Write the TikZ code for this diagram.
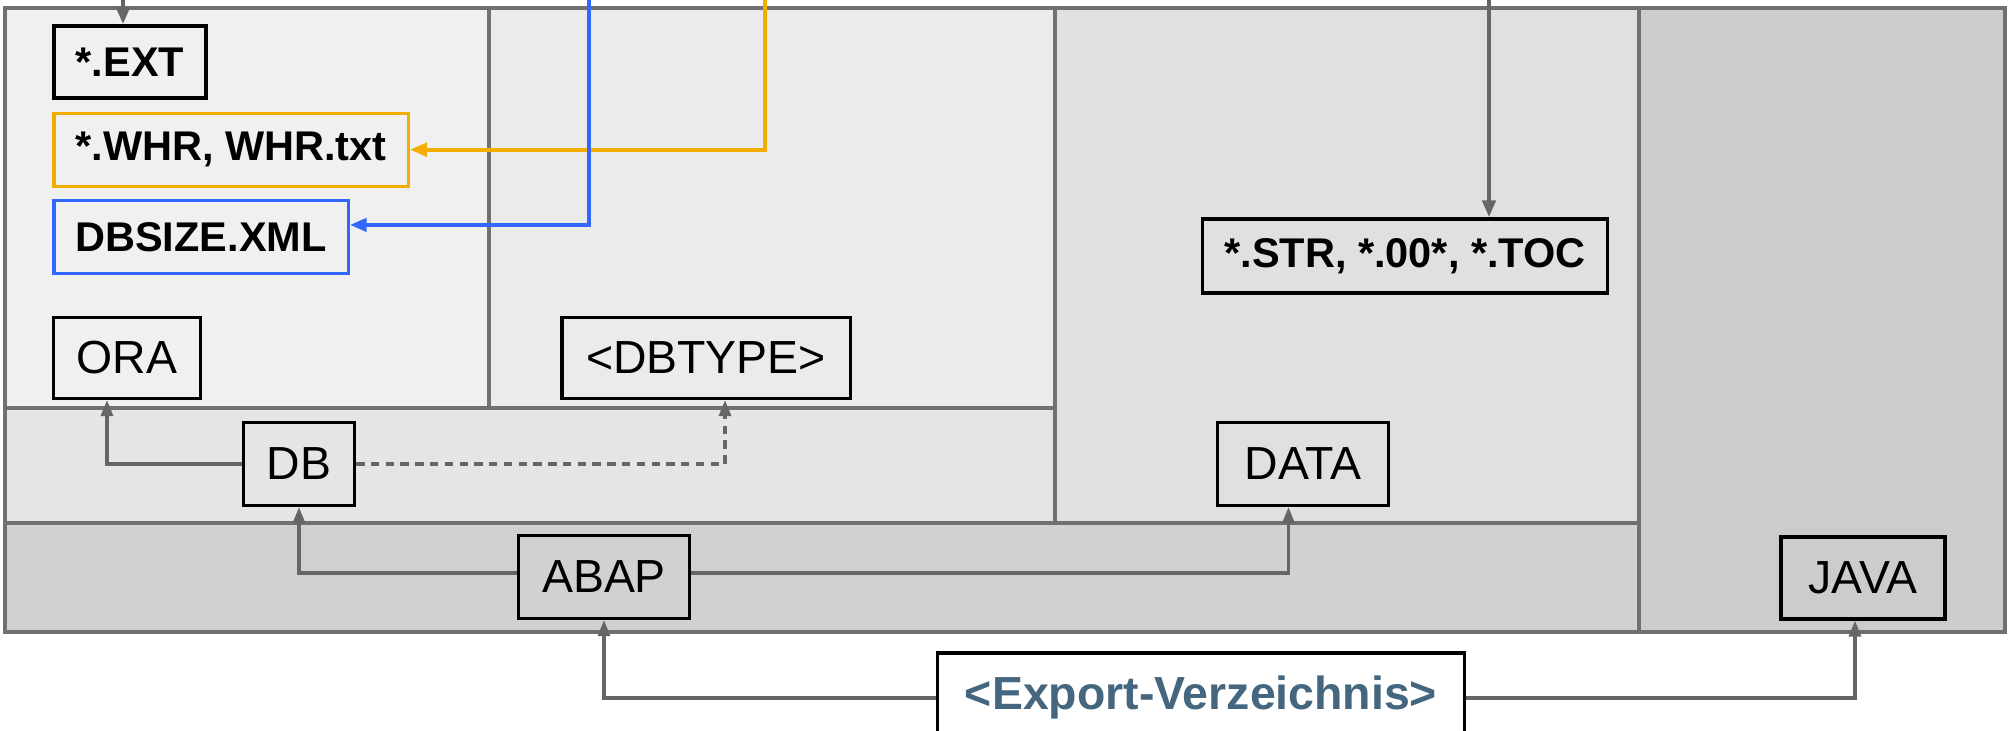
\documentclass[tikz,border=0pt]{standalone}
\usepackage{fontspec}
\setmainfont{Liberation Sans}
\usetikzlibrary{positioning}
\usetikzlibrary{arrows.meta}
\definecolor{frame}{HTML}{707070}
\definecolor{linkgray}{HTML}{666666}
\definecolor{whrorange}{HTML}{F2AE00}
\definecolor{sizeblue}{HTML}{3366FF}
\definecolor{exportblue}{HTML}{44677F}

\begin{document}
\begin{tikzpicture}[x=0.01cm, y=-0.01cm,
		region/.style={draw=frame, line width=1pt},
		dir/.style={draw=black, line width=0.9pt, inner sep=0pt, font=\fontsize{13.2}{16}\selectfont},
		file/.style={dir, font=\bfseries\fontsize{11.8}{14}\selectfont},
		link/.style={draw=linkgray, line width=0.9pt, -{Triangle[length=1.6mm, width=1.2mm]}},
		feed/.style={line width=1.25pt, -{Triangle[length=1.7mm, width=1.3mm]}}]
		\useasboundingbox (0,0) rectangle (2011,731);
		
		\draw[region, fill=black!6] (5,8) rectangle (489,408);
		\draw[region, fill=black!8] (489,8) rectangle (1055,408);
		\draw[region, fill=black!10] (5,408) rectangle (1055,523);
		\draw[region, fill=black!12] (1055,8) rectangle (1639,523);
		\draw[region, fill=black!18] (5,523) rectangle (1639,632);
		\draw[region, fill=black!20] (1639,8) rectangle (2005,632);
		
		\node[file, minimum width = 1.52cm, minimum height = .72cm] (EXT) at (130,62) {*.EXT};
		\node[file, draw = whrorange, minimum width = 3.54cm, minimum height = .73cm, below = 1.2mm of EXT.south west, anchor = north west] (WHR) {*.WHR, WHR.txt};
		\node[file, draw = sizeblue, minimum width = 2.94cm, minimum height = .73cm, below = 1.1mm of WHR.south west, anchor = north west] (DBSIZE) {DBSIZE.XML};
		\node[file, minimum width = 4.05cm, minimum height = .74cm] (STR) at (1405,256) {*.STR, *.00*, *.TOC};
		
		\node[dir, minimum width = 1.47cm, minimum height = .81cm] (ORA) at (127,358) {ORA};
		\node[dir, minimum width = 2.88cm, minimum height = .81cm] (DBTYPE) at (706,358) {<DBTYPE>};
		\node[dir, minimum width = 1.11cm, minimum height = .83cm] (DB) at (299,464) {DB};
		\node[dir, minimum width = 1.71cm, minimum height = .83cm] (DATA) at (1303,464) {DATA};
		\node[dir, minimum width = 1.71cm, minimum height = .83cm] (ABAP) at (604,577) {ABAP};
		\node[dir, minimum width = 1.64cm, minimum height = .82cm] (JAVA) at (1863,578) {JAVA};
		\node[dir, fill = white, minimum width = 5.27cm, minimum height = .9cm, text = exportblue, font = \bfseries\fontsize{13.2}{16}\selectfont] (EXPORT) at (1201,698) {<Export-Verzeichnis>};
		
		\coordinate (EXTin) at (123,0);
		\coordinate (WHRin) at (765,0);
		\coordinate (SIZEin) at (589,0);
		\coordinate (STRin) at (1489,0);
		
		\draw[feed, draw = linkgray] (EXTin) -- (EXTin |- EXT.north);
		\draw[feed, draw = linkgray] (STRin) -- (STRin |- STR.north);
		\draw[feed, draw = whrorange] (WHRin) |- (WHR.east);
		\draw[feed, draw = sizeblue] (SIZEin) |- ([yshift = 1.2mm]DBSIZE.east);
		
		\draw[link] (DB.west) -| ([xshift = -2mm]ORA.south);
		\draw[link, dash pattern = on 2.4pt off 1.8pt] (DB.east) -| ([xshift = 1.9mm]DBTYPE.south);
		\draw[link] ([yshift = .4mm]ABAP.west) -| (DB.south);
		\draw[link] ([yshift = .4mm]ABAP.east) -| ([xshift = -1.45mm]DATA.south);
		\draw[link] (EXPORT.west) -| (ABAP.south);
		\draw[link] (EXPORT.east) -| ([xshift = -.8mm]JAVA.south);
	\end{tikzpicture}
\end{document}
